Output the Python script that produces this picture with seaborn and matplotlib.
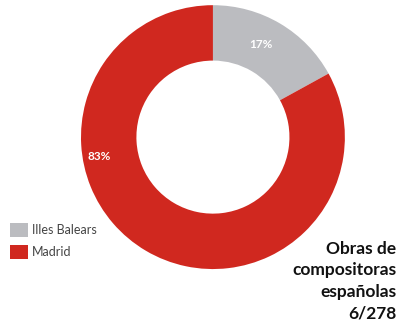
import numpy as np
import pandas as pd
import seaborn as sns
import matplotlib.pyplot as plt
from matplotlib.patches import Patch

regions = ["Illes Balears", "Madrid"]
shares = [17, 83]
title_lines = ["Obras de", "compositoras", "españolas", "6/278"]

sns.set_style("white")
plt.rcParams["font.family"] = ["Lato", "DejaVu Sans"]
colors = sns.color_palette(["#bbbcc0", "#d0281f"])

df = pd.DataFrame({"region": regions, "share": shares})

fig = plt.figure(figsize=(3.98, 3.23), dpi=100)
ax = fig.add_axes([0.2035, 0.167, 0.663, 0.817])
wedges, _ = ax.pie(
    df["share"],
    colors=colors,
    startangle=90,
    counterclock=False,
    radius=1.0,
    wedgeprops=dict(width=0.42, linewidth=0),
)
ax.set_xlim(-1, 1)
ax.set_ylim(-1, 1)
ax.set_aspect("equal")
ax.axis("off")

# percentage labels
ax.text(0.36, 0.70, "%d%%" % shares[0], color="white", fontsize=8.5,
        fontweight="bold", ha="center", va="center")
ax.text(-0.86, -0.15, "%d%%" % shares[1], color="white", fontsize=8.5,
        fontweight="bold", ha="center", va="center")

handles = [Patch(facecolor=c, edgecolor="none") for c in colors]
fig.legend(
    handles, regions, loc="upper left", bbox_to_anchor=(0.013, 0.325),
    frameon=False, fontsize=9, handlelength=1.4, handleheight=1.35,
    handletextpad=0.35, labelspacing=0.6, borderaxespad=0,
    labelcolor="#444444",
)

fig.text(0.995, 0.006, "\n".join(title_lines), ha="right", va="bottom",
         fontsize=12.5, fontweight="bold", color="#111111", linespacing=1.42)

fig.savefig("out.png", dpi=100)
